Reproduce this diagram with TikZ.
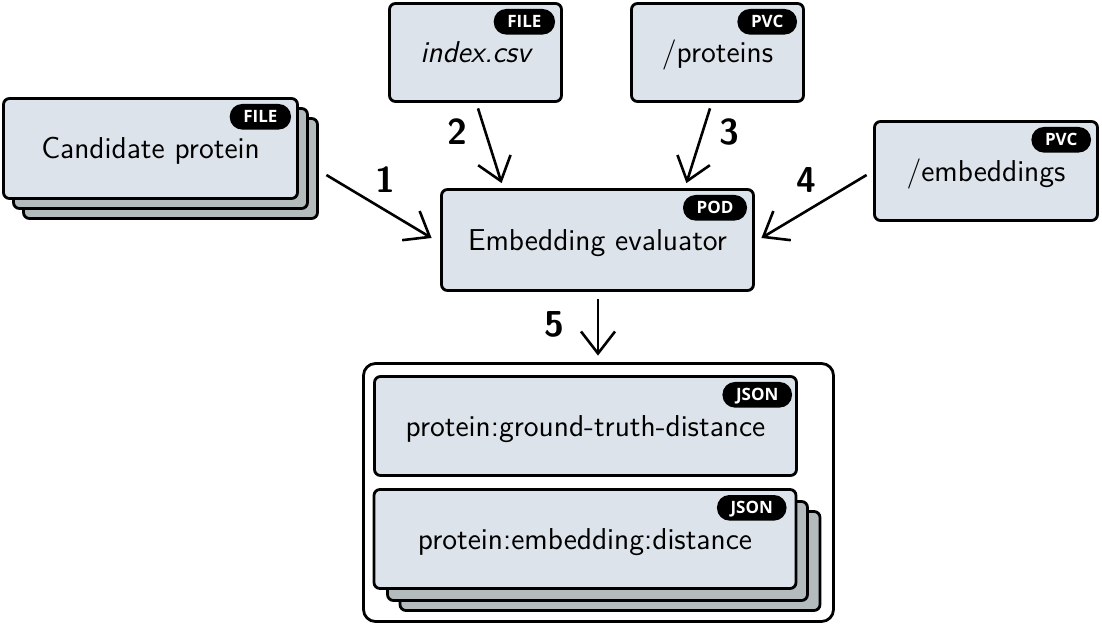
\documentclass[tikz,border=0pt]{standalone}
\usepackage{fontspec}
\newfontfamily\badgefont{Open Sans}
\usetikzlibrary{arrows.meta,calc}
\definecolor{boxfill}{HTML}{DCE3EA}
\definecolor{backfill}{HTML}{B3BBBD}
\tikzset{
  box/.style={draw=black, line width=1.4pt, fill=boxfill, rounded corners=3pt, inner sep=0pt,
    font=\sffamily\fontsize{15.1}{17}\selectfont, text height=10.4pt, text depth=0pt, align=center},
  backbox/.style={box, fill=backfill},
  badge/.style={fill=black, text=white, rounded corners=6.25pt, inner xsep=6.8pt, inner ysep=0pt,
    minimum height=12.8pt, text height=6.1pt, text depth=0pt, anchor=north east,
    font=\badgefont\bfseries\fontsize{8.5}{9}\selectfont},
  num/.style={anchor=base, font=\sffamily\bfseries\fontsize{18}{20}\selectfont},
  arr/.style={line width=1.3pt, -{Straight Barb[length=11pt,width=17pt,line width=1.3pt]}},
}
\begin{document}
\begin{tikzpicture}[x=0.5pt,y=-0.5pt]
\useasboundingbox (0,0) rectangle (1102,625);
% candidate protein stack
\node[backbox, minimum width=147pt, minimum height=50pt] (cand3) at (170.5,168.5) {};
\node[backbox, minimum width=147pt, minimum height=50pt] (cand2) at (160.5,158.5) {};
\node[box, minimum width=147pt, minimum height=50pt] (cand) at (150.5,148.5) {Candidate protein};
\node[badge] (candb) at ($(cand.north east)+(-7.5,6.5)$) {FILE};
% index.csv
\node[box, minimum width=86pt, minimum height=49pt] (index) at (475.5,52.5) {\itshape index.csv};
\node[badge] (indexb) at ($(index.north east)+(-7.5,6.5)$) {FILE};
% proteins
\node[box, minimum width=86pt, minimum height=49pt] (prot) at (717.5,52.5) {/proteins};
\node[badge] (protb) at ($(prot.north east)+(-7.5,6.5)$) {PVC};
% embeddings
\node[box, minimum width=111.5pt, minimum height=49.5pt] (emb) at (986,171) {/embeddings};
\node[badge] (embb) at ($(emb.north east)+(-7.5,6.5)$) {PVC};
% evaluator
\node[box, minimum width=156pt, minimum height=50.5pt] (eval) at (597.5,240) {Embedding evaluator};
\node[badge] (evalb) at ($(eval.north east)+(-7.5,6.5)$) {POD};
% output container
\node[draw=black, line width=1.4pt, fill=white, rounded corners=6pt, minimum width=235pt, minimum height=129pt, inner sep=0pt] (out) at (598.5,492.5) {};
\node[box, minimum width=211pt, minimum height=49.5pt] (gt) at (585.5,426) {protein:ground-truth-distance};
\node[badge] (gtb) at ($(gt.north east)+(-5.5,6.5)$) {JSON};
\node[backbox, minimum width=210pt, minimum height=49.5pt] (ed3) at (610,561) {};
\node[backbox, minimum width=210pt, minimum height=49.5pt] (ed2) at (597.5,551) {};
\node[box, minimum width=211pt, minimum height=49.5pt] (ed) at (585,539) {protein:embedding:distance};
\node[badge] (edb) at ($(ed.north east)+(-10.5,6.5)$) {JSON};
% arrows
\draw[arr] ($(cand3.east)+(7.5,6.5)$) -- ($(eval.west)+(-8.5,-2)$);
\draw[arr] ($(index.south)+(2.5,5.5)$) -- ($(eval.north west)+(61.5,-5)$);
\draw[arr] ($(prot.south)+(-7.5,5.5)$) -- ($(eval.north east)+(-68.5,-5)$);
\draw[arr] ($(emb.west)+(-6.5,4)$) -- ($(eval.east)+(6.5,-2)$);
\draw[arr] ($(eval.south)+(0.5,7.5)$) -- ($(out.north)+(-0.5,-6.5)$);
% labels
\node[num] (n1) at (385,193) {1};
\node[num] (n2) at (457,145) {2};
\node[num] (n3) at (729,145) {3};
\node[num] (n4) at (806,193) {4};
\node[num] (n5) at (554,337) {5};
\end{tikzpicture}
\end{document}
